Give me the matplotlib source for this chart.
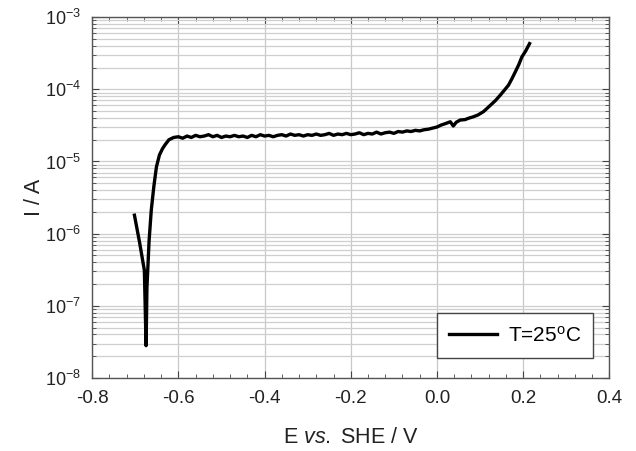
import numpy as np
import matplotlib
matplotlib.use('Agg')
import matplotlib.pyplot as plt
from matplotlib.ticker import LogLocator, MultipleLocator, NullFormatter

plt.rcParams['font.family'] = ['Liberation Sans', 'DejaVu Sans']
plt.rcParams['mathtext.fontset'] = 'custom'
plt.rcParams['mathtext.rm'] = 'Liberation Sans'
plt.rcParams['mathtext.it'] = 'Liberation Sans:italic'

# potential (V vs SHE) and current (A)
E = [-0.702, -0.690, -0.679, -0.675, -0.673, -0.668, -0.663, -0.657, -0.651,
     -0.644, -0.637, -0.631, -0.622, -0.611, -0.600, -0.590, -0.580, -0.570,
     -0.560, -0.550, -0.540, -0.530, -0.520, -0.510, -0.500, -0.490, -0.480,
     -0.470, -0.460, -0.450, -0.440, -0.430, -0.420, -0.410, -0.400, -0.390,
     -0.380, -0.370, -0.360, -0.350, -0.340, -0.330, -0.320, -0.310, -0.300,
     -0.290, -0.280, -0.270, -0.260, -0.250, -0.240, -0.230, -0.220, -0.210,
     -0.200, -0.190, -0.180, -0.170, -0.160, -0.150, -0.140, -0.130, -0.120,
     -0.110, -0.100, -0.090, -0.080, -0.070, -0.060, -0.050, -0.040, -0.030,
     -0.020, -0.010, 0.000, 0.010, 0.020, 0.031, 0.038, 0.045, 0.054, 0.065,
     0.075, 0.084, 0.095, 0.108, 0.124, 0.136, 0.147, 0.157, 0.166, 0.174,
     0.182, 0.190, 0.197, 0.206, 0.215]
I = [1.8e-6, 7.5e-7, 3.1e-7, 2.8e-8, 1.8e-7, 8.0e-7, 2.1e-6, 4.5e-6, 8.4e-6,
     1.23e-5, 1.5e-5, 1.7e-5, 2.0e-5, 2.15e-5, 2.2e-5, 2.1e-5, 2.25e-5, 2.15e-5,
     2.3e-5, 2.2e-5, 2.25e-5, 2.35e-5, 2.2e-5, 2.3e-5, 2.15e-5, 2.25e-5, 2.2e-5,
     2.3e-5, 2.2e-5, 2.25e-5, 2.15e-5, 2.3e-5, 2.2e-5, 2.35e-5, 2.25e-5, 2.3e-5,
     2.2e-5, 2.3e-5, 2.35e-5, 2.25e-5, 2.4e-5, 2.3e-5, 2.35e-5, 2.25e-5, 2.35e-5,
     2.3e-5, 2.4e-5, 2.3e-5, 2.35e-5, 2.45e-5, 2.3e-5, 2.4e-5, 2.35e-5, 2.45e-5,
     2.35e-5, 2.4e-5, 2.5e-5, 2.35e-5, 2.45e-5, 2.4e-5, 2.55e-5, 2.4e-5, 2.5e-5,
     2.55e-5, 2.45e-5, 2.6e-5, 2.55e-5, 2.65e-5, 2.6e-5, 2.7e-5, 2.65e-5, 2.75e-5,
     2.8e-5, 2.9e-5, 3.0e-5, 3.2e-5, 3.35e-5, 3.55e-5, 3.1e-5, 3.5e-5, 3.75e-5, 3.8e-5,
     4.0e-5, 4.15e-5, 4.4e-5, 4.9e-5, 6.0e-5, 7.0e-5, 8.3e-5, 9.8e-5, 1.14e-4, 1.4e-4,
     1.75e-4, 2.2e-4, 2.8e-4, 3.4e-4, 4.3e-4]

xticks = [-0.8, -0.6, -0.4, -0.2, 0.0, 0.2, 0.4]
xticklabels = ['-0.8', '-0.6', '-0.4', '-0.2', '0.0', '0.2', '0.4']

fig = plt.figure(figsize=(6.36, 4.51), dpi=100)
ax = fig.add_axes([0.145, 0.162, 0.813, 0.8])

ax.semilogy(E, I, color='black', lw=2.4, label=r'T=25$^{\rm o}$C', zorder=3)

ax.set_xlim(-0.8, 0.4)
ax.set_ylim(1e-8, 1e-3)
ax.set_xticks(xticks)
ax.set_xticklabels(xticklabels)
ax.xaxis.set_minor_locator(MultipleLocator(0.04))
ax.yaxis.set_major_locator(LogLocator(base=10, numticks=10))
ax.yaxis.set_minor_locator(LogLocator(base=10, subs=np.arange(2, 10), numticks=20))
ax.yaxis.set_minor_formatter(NullFormatter())

ax.grid(True, which='major', axis='x', color='#c8c8c8', lw=0.9)
ax.grid(True, which='both', axis='y', color='#cfcfcf', lw=0.9)
ax.set_axisbelow(True)

ax.tick_params(which='both', direction='in', top=True, right=True, colors='#444444',
               labelcolor='#222222')
ax.tick_params(axis='x', labelsize=13.5, pad=9)
ax.tick_params(axis='y', labelsize=13, pad=8)
ax.tick_params(which='major', length=5)
ax.tick_params(which='minor', length=3)
for s in ax.spines.values():
    s.set_color('#555555')
    s.set_linewidth(1.0)

ax.set_xlabel(r'E $\mathit{vs.}$ SHE / V', fontsize=15.5, color='#222222', labelpad=14)
ax.set_ylabel('I / A', fontsize=15.5, color='#222222', labelpad=0)

leg = ax.legend(loc='lower right', bbox_to_anchor=(0.969, 0.055), borderaxespad=0,
                fontsize=15, fancybox=False, framealpha=1, edgecolor='#444444',
                handlelength=2.3, handletextpad=0.5, borderpad=0.6)
leg.get_frame().set_linewidth(1.0)

fig.savefig('out.png', dpi=100)
